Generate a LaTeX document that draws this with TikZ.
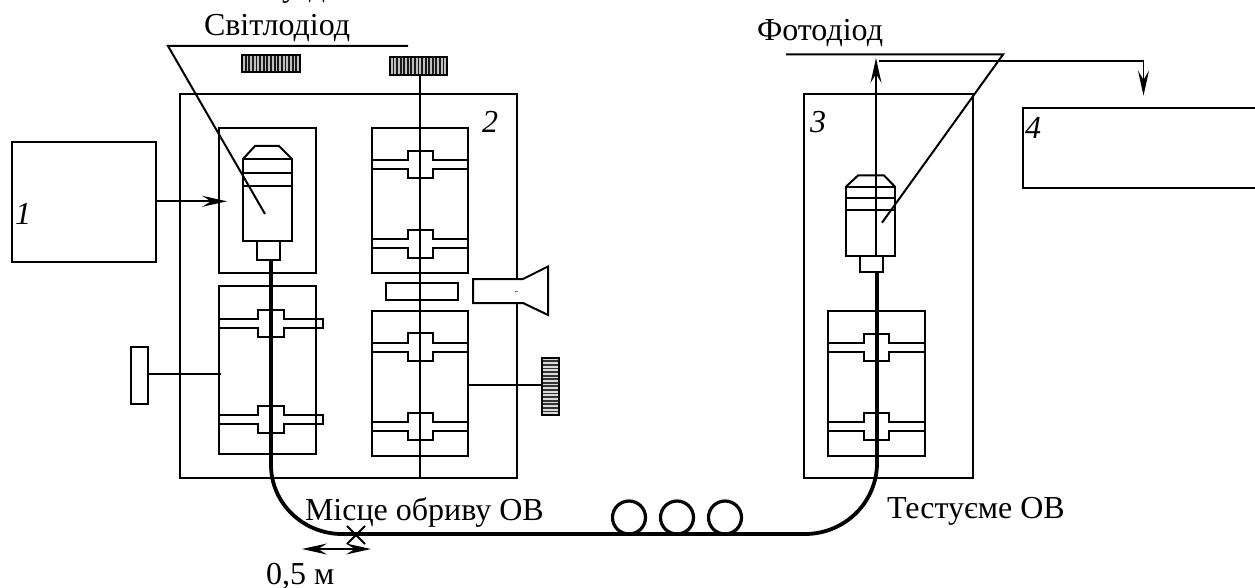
\documentclass[tikz,border=0pt]{standalone}
\usepackage{fontspec}
\setmainfont{Liberation Serif}
\usetikzlibrary{arrows.meta}
\tikzset{
  plain/.style={draw=black,line width=2pt,line cap=butt},
  thin line/.style={draw=black,line width=1.6pt},
  boxn/.style={draw=black,line width=2pt,fill=none,inner sep=0pt,outer sep=0pt},
  fibre/.style={draw=black,line width=3.8pt},
  coil/.style={draw=black,line width=3.2pt,circle,inner sep=0pt,outer sep=0pt,minimum size=33pt},
  lbl/.style={inner sep=0pt,outer sep=0pt,anchor=base west,font=\fontsize{32}{32}\selectfont},
  num/.style={inner sep=0pt,outer sep=0pt,anchor=base west,font=\fontsize{32}{32}\selectfont\itshape},
  arr/.style={-{Stealth[length=25pt,width=11pt,inset=9pt]}},
  darr/.style={{Stealth[length=25pt,width=11pt,inset=9pt]}-{Stealth[length=25pt,width=11pt,inset=9pt]}},
}
% clamp bars: #1 left, #2 right, #3 bar top, #4 bar bottom, #5 cross left, #6 cross right, #7 cross top, #8 cross bottom
\newcommand{\clampbar}[8]{%
  \draw[plain] (#1,#3) -- (#5,#3) -- (#5,#7) -- (#6,#7) -- (#6,#3) -- (#2,#3)
     (#1,#4) -- (#5,#4) -- (#5,#8) -- (#6,#8) -- (#6,#4) -- (#2,#4);}
% knurl stripes
\newcommand{\knurlH}[4]{%
  \fill[black!25] (#1,#3) rectangle (#2,#4);
  \foreach \k in {1,...,15}{\fill[black!90] ({#1+(\k-0.25)*(#2-#1)/16},#3) rectangle ({#1+(\k+0.25)*(#2-#1)/16},#4);}
  \draw[plain] (#1,#3) rectangle (#2,#4);}
\newcommand{\knurlV}[4]{%
  \fill[black!15] (#1,#3) rectangle (#2,#4);
  \foreach \k in {1,...,15}{\fill[black!80] (#1,{#3+(\k-0.25)*(#4-#3)/16}) rectangle (#2,{#3+(\k+0.25)*(#4-#3)/16});}
  \draw[plain] (#1,#3) rectangle (#2,#4);}
\begin{document}
\begin{tikzpicture}[x=1pt,y=-1pt]
\clip (0,0) rectangle (1255,588);
\fill[white] (0,0) rectangle (1255,588);

% main boxes
\node[boxn,minimum width=144pt,minimum height=120pt] (b1) at (84,202) {};
\node[boxn,minimum width=337pt,minimum height=384pt] (b2) at (348.5,286) {};
\node[boxn,minimum width=168.5pt,minimum height=384pt] (b3) at (888.5,286) {};
\draw[plain] (1260,107.7) -- (1023,107.7) -- (1023,187.7) -- (1260,187.7);
\coordinate (b4top) at (1143.5,95.7);

% light source mount
\node[boxn,minimum width=97pt,minimum height=145pt] (ledmount) at (267.5,200.5) {};
\node[boxn,minimum width=49pt,minimum height=82pt] (led) at (267.5,200) {};
\draw[plain] (243,159) -- (255,146) -- (279,146) -- (292,159);
\draw[plain] (243,173) -- (292,173) (243,186) -- (292,186);
\node[boxn,minimum width=23pt,minimum height=19pt,anchor=north] (ledtip) at (268.5,241) {};

% clamps
\node[boxn,minimum width=97pt,minimum height=168pt] (cl) at (267.5,370) {};
\clampbar{219}{323}{319}{328}{258}{284}{310}{337}
\clampbar{219}{323}{415}{424}{258}{284}{406}{433}
\draw[plain] (323,318) -- (323,329) (323,414) -- (323,425);

\node[boxn,minimum width=96pt,minimum height=145pt] (rt) at (420,200.5) {};
\clampbar{372}{468}{160}{169}{408}{433}{151}{178}
\clampbar{372}{468}{239}{248}{408}{433}{230}{258}
\node[boxn,minimum width=96pt,minimum height=144.7pt] (rb) at (420,383.3) {};
\clampbar{372}{468}{342.7}{351.7}{408}{433}{333}{361}
\clampbar{372}{468}{422}{431}{408}{433}{413}{440}

\node[boxn,minimum width=96.7pt,minimum height=144.7pt] (c3) at (876.3,383.3) {};
\clampbar{828}{924.7}{342.7}{351.7}{864}{888.7}{333.7}{360.7}
\clampbar{828}{924.7}{422}{431}{864}{888.7}{413}{440}

% small rectangle, axis line and knurls
\node[boxn,minimum width=72pt,minimum height=17pt] (mid) at (422,291.5) {};
\knurlH{242}{300}{55}{72}
\knurlH{390}{447}{57.5}{75}
\coordinate (axtop) at (420,75);
\coordinate (axbot) at (420,478);
\draw[plain] (axtop) -- (axbot);

% camera
\draw[plain,fill=white] (473,279) -- (523,279) -- (548,266.5) -- (548,315) -- (523,303) -- (473,303) -- cycle;
\fill[black!60] (515,290.8) rectangle (517.5,291.5);

% handles
\node[boxn,minimum width=17pt,minimum height=57pt] (hl) at (139.5,375.5) {};
\coordinate (hlend) at (221,374);
\draw[thin line] (hl.east |- hlend) -- (hlend);
\knurlV{541.7}{559}{357.7}{415}
\coordinate (hrk) at (541.7,385);
\draw[thin line] (rb.east |- hrk) -- (hrk);

% photodiode
\node[boxn,minimum width=49pt,minimum height=69pt] (pd) at (870.5,221.2) {};
\draw[plain] (846,186.7) -- (858,175.5) -- (884,175.5) -- (895,186.7);
\draw[plain] (846,198) -- (895,198) (846,209.7) -- (895,209.7);
\node[boxn,minimum width=23pt,minimum height=16.3pt,anchor=north] (pdtip) at (871.5,255.7) {};

% fibre
\coordinate (fibmidL) at (342,534);
\coordinate (fibmidR) at (805,534);
\draw[fibre] (ledtip.south -| 271,0) -- (271,465) .. controls (271,503) and (303,534) .. (fibmidL) -- (fibmidR)
   .. controls (845,534) and (877,502) .. (877,463) -- (877,272);
\node[coil] (c1) at (629,517.5) {};
\node[coil] (c2) at (677,517.5) {};
\node[coil] (c3c) at (725,517.5) {};
\draw[fibre] (590,534) -- (760,534);

% arrows and leaders
\coordinate (ledin) at (227,201.3);
\draw[thin line,arr] (b1.east |- ledin) -- (ledin);
\coordinate (uptip) at (876,58);
\draw[plain,arr] (876,255) -- (uptip);
\coordinate (outst) at (879,61);
\coordinate (outcr) at (1143.5,61);
\draw[thin line,arr] (outst) -- (outcr) -- (b4top);
\coordinate (ll1) at (168,46);
\coordinate (ll2) at (408,46);
\coordinate (ll3) at (265,214);
\draw[plain] (ll2) -- (ll1) -- (ll3);
\coordinate (pl1) at (786,54.5);
\coordinate (pl2) at (1003,54.5);
\coordinate (pl3) at (882,222.7);
\draw[plain] (pl1) -- (pl2) -- (pl3);

% break mark and distance
\coordinate (xm) at (356,535);
\draw[plain] (347,526) -- (365,544) (347,544) -- (365,526);
\coordinate (da) at (302,549);
\coordinate (db) at (371,549);
\draw[thin line,darr] (da) -- (db);

% labels
\node[lbl] (t1) at (204,36) {Світлодіод};
\node[lbl] (t2) at (757,41) {Фотодіод};
\node[lbl] (t3) at (305,520.7) {Місце обриву ОВ};
\node[lbl] (t4) at (266,584) {0,5 м};
\node[lbl] (t5) at (887,518) {Тестуєме ОВ};
\node[lbl] (t6) at (282,-3) {у\hspace{11pt}д};
\node[num] (n1) at (15,225) {1};
\node[num] (n2) at (482,132.7) {2};
\node[num] (n3) at (810,132.7) {3};
\node[num] (n4) at (1025,139) {4};
\end{tikzpicture}
\end{document}
